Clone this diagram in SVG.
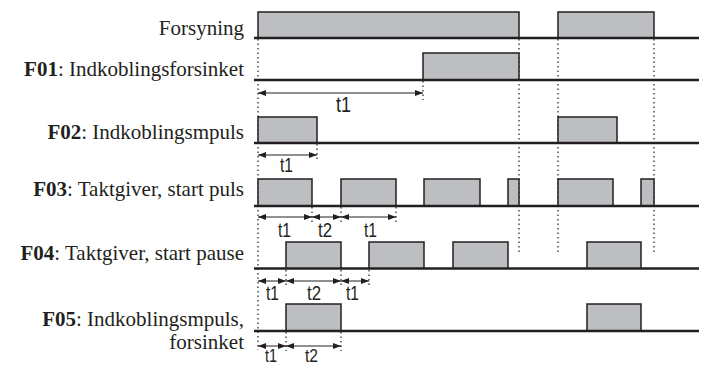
<svg xmlns="http://www.w3.org/2000/svg" width="705" height="367" viewBox="0 0 705 367">
<defs>
<style>
.lbl{font-family:"Liberation Serif","Times New Roman",serif;font-size:21px;fill:#231f20;text-anchor:end}
.b{font-weight:bold}
.t{font-family:"Liberation Sans",Arial,sans-serif;font-size:20px;fill:#231f20}
.tb{font-family:"Liberation Sans",Arial,sans-serif;font-size:22px;fill:#231f20}
.ts{font-family:"Liberation Sans",Arial,sans-serif;font-size:18px;fill:#231f20}
.base{stroke:#231f20;stroke-width:2.5;fill:none}
.pulse{fill:#bdbec1;stroke:#231f20;stroke-width:1.5}
.dot{stroke:#231f20;stroke-width:1.2;stroke-dasharray:1.5 3;fill:none}
.arr{stroke:#231f20;stroke-width:1;fill:none;marker-start:url(#ah);marker-end:url(#ah)}
</style>
<marker id="ah" viewBox="0 0 8 6" refX="8" refY="3" markerWidth="8" markerHeight="6" markerUnits="userSpaceOnUse" orient="auto-start-reverse">
<path d="M0,0 L8,3 L0,6 z" fill="#231f20"/>
</marker>
</defs>
<rect width="705" height="367" fill="#fff"/>

<g id="guides">
<line class="dot" x1="258" y1="39" x2="258" y2="350"/>
<line class="dot" x1="519" y1="39" x2="519" y2="253"/>
<line class="dot" x1="558" y1="39" x2="558" y2="253"/>
<line class="dot" x1="654" y1="39" x2="654" y2="255"/>
<line class="dot" x1="423" y1="81" x2="423" y2="100"/>
<line class="dot" x1="317" y1="144" x2="317" y2="160"/>
<line class="dot" x1="312" y1="207" x2="312" y2="222"/>
<line class="dot" x1="341" y1="207" x2="341" y2="222"/>
<line class="dot" x1="396" y1="207" x2="396" y2="222"/>
<line class="dot" x1="286" y1="270" x2="286" y2="286"/>
<line class="dot" x1="341" y1="270" x2="341" y2="286"/>
<line class="dot" x1="369" y1="270" x2="369" y2="286"/>
<line class="dot" x1="286" y1="332" x2="286" y2="351"/>
<line class="dot" x1="341" y1="332" x2="341" y2="351"/>
</g>

<g id="forsyning">
<text class="lbl" x="244" y="35">Forsyning</text>
<path class="pulse" d="M258,38 V12 H519 V38"/>
<path class="pulse" d="M558,38 V12 H654 V38"/>
<line class="base" x1="254" y1="38" x2="699" y2="38"/>
</g>

<g id="f01">
<text class="lbl" x="244" y="76"><tspan class="b">F01</tspan>: Indkoblingsforsinket</text>
<path class="pulse" d="M423,80 V53 H519 V80"/>
<line class="base" x1="254" y1="80" x2="699" y2="80"/>
</g>

<g id="f02">
<text class="lbl" x="244" y="139"><tspan class="b">F02</tspan>: Indkoblingsmpuls</text>
<path class="pulse" d="M258,143 V117 H317 V143"/>
<path class="pulse" d="M558,143 V117 H617 V143"/>
<line class="base" x1="254" y1="143" x2="699" y2="143"/>
</g>

<g id="f03">
<text class="lbl" x="244" y="196"><tspan class="b">F03</tspan>: Taktgiver, start puls</text>
<path class="pulse" d="M258,206 V179 H312 V206"/>
<path class="pulse" d="M341,206 V179 H396 V206"/>
<path class="pulse" d="M424,206 V179 H480 V206"/>
<path class="pulse" d="M508,206 V179 H519 V206"/>
<path class="pulse" d="M558,206 V179 H613 V206"/>
<path class="pulse" d="M641,206 V179 H654 V206"/>
<line class="base" x1="254" y1="206" x2="699" y2="206"/>
</g>

<g id="f04">
<text class="lbl" x="244" y="260"><tspan class="b">F04</tspan>: Taktgiver, start pause</text>
<path class="pulse" d="M286,268.5 V242 H341 V268.5"/>
<path class="pulse" d="M369,268.5 V242 H424 V268.5"/>
<path class="pulse" d="M453,268.5 V242 H508 V268.5"/>
<path class="pulse" d="M587,268.5 V242 H641 V268.5"/>
<line class="base" x1="254" y1="268.5" x2="699" y2="268.5"/>
</g>

<g id="f05">
<text class="lbl" x="244" y="326"><tspan class="b">F05</tspan>: Indkoblingsmpuls,</text>
<text class="lbl" x="244" y="349">forsinket</text>
<path class="pulse" d="M286,331 V304 H341 V331"/>
<path class="pulse" d="M587,331 V304 H641 V331"/>
<line class="base" x1="254" y1="331" x2="699" y2="331"/>
</g>

<g id="connectors">
<line class="arr" x1="258" y1="93" x2="423" y2="93"/>
<line class="arr" x1="258" y1="155" x2="317" y2="155"/>
<line class="arr" x1="258" y1="217" x2="312" y2="217"/>
<line class="arr" x1="312" y1="217" x2="341" y2="217"/>
<line class="arr" x1="341" y1="217" x2="396" y2="217"/>
<line class="arr" x1="258" y1="281" x2="286" y2="281"/>
<line class="arr" x1="286" y1="281" x2="341" y2="281"/>
<line class="arr" x1="341" y1="281" x2="369" y2="281"/>
<line class="arr" x1="258" y1="346" x2="286" y2="346"/>
<line class="arr" x1="286" y1="346" x2="341" y2="346"/>
</g>

<g id="time-labels">
<text class="tb" x="336" y="112" textLength="15" lengthAdjust="spacingAndGlyphs">t1</text>
<text class="t" x="280" y="172" textLength="13" lengthAdjust="spacingAndGlyphs">t1</text>
<text class="t" x="278" y="237" textLength="13" lengthAdjust="spacingAndGlyphs">t1</text>
<text class="t" x="318" y="237" textLength="14" lengthAdjust="spacingAndGlyphs">t2</text>
<text class="t" x="364" y="237" textLength="13" lengthAdjust="spacingAndGlyphs">t1</text>
<text class="t" x="266" y="300" textLength="13" lengthAdjust="spacingAndGlyphs">t1</text>
<text class="t" x="307" y="300" textLength="14" lengthAdjust="spacingAndGlyphs">t2</text>
<text class="t" x="346" y="300" textLength="13" lengthAdjust="spacingAndGlyphs">t1</text>
<text class="ts" x="265" y="362" textLength="12" lengthAdjust="spacingAndGlyphs">t1</text>
<text class="ts" x="305" y="362" textLength="13" lengthAdjust="spacingAndGlyphs">t2</text>
</g>
</svg>
